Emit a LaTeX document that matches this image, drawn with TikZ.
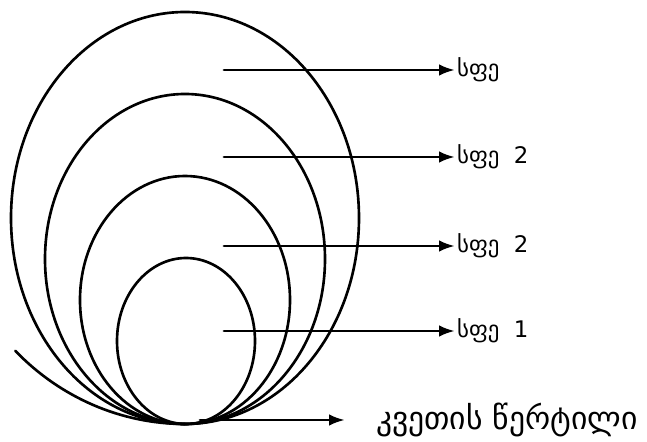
\documentclass[tikz,border=0pt]{standalone}
\usepackage{fontspec}
\usepackage{tikz}
\usetikzlibrary{arrows.meta}
\usetikzlibrary{positioning}
\newfontfamily\geofont{DejaVu Sans}
\tikzset{
	>={Latex[length=2.6mm]},
}

\begin{document}
\begin{tikzpicture}[x=0.02cm, y=-0.02cm, line cap=round, line join=round]
			
			\tikzset{
				sphere/.style={line width=1.5pt, draw=black},
				arrowS/.style={-{Latex[length=9pt,width=6.5pt]}, line width=1.6pt},
				lab/.style={font=\geofont\fontsize{13}{15}\selectfont, anchor=west, inner sep=1pt},
				labB/.style={font=\geofont\fontsize{18}{20}\selectfont, anchor=west, inner sep=1pt},
			}
			
			\useasboundingbox (0,0) rectangle (647,442);
			
			% --- nested spheres, all touching in one point at the bottom
			\draw[sphere] (185,218) ellipse (174 and 206);
			\draw[sphere] (185,259) ellipse (140 and 165);
			\draw[sphere] (185,300) ellipse (105 and 124);
			\draw[sphere] (186,341) ellipse (69 and 83);
			
			% outer piece of one more sphere
			\draw[sphere] (185,424) arc[start angle=90, end angle=135, x radius=240, y radius=250];
			
			% --- labels
			\node[lab] (s4) at (455,70) {სფე};
			\node[lab] (s3) at (455,157) {სფე\ \ 2};
			\node[lab] (s2) at (455,246) {სფე\ \ 2};
			\node[lab] (s1) at (455,331) {სფე\ \ 1};
			\node[labB] (kv) at (374,420) {კვეთის წერტილი};
			
			% --- arrows
			\coordinate (a4) at (224,70);
			\coordinate (a3) at (224,157);
			\coordinate (a2) at (224,246);
			\coordinate (a1) at (224,331);
			\coordinate (t) at (200,420);
			
			\draw[arrowS] (a4) -- (s4.west);
			\draw[arrowS] (a3) -- (s3.west);
			\draw[arrowS] (a2) -- (s2.west);
			\draw[arrowS] (a1) -- (s1.west);
			\draw[arrowS] (t) -- ([xshift=-0.58cm]kv.west);
			
		\end{tikzpicture}
\end{document}
